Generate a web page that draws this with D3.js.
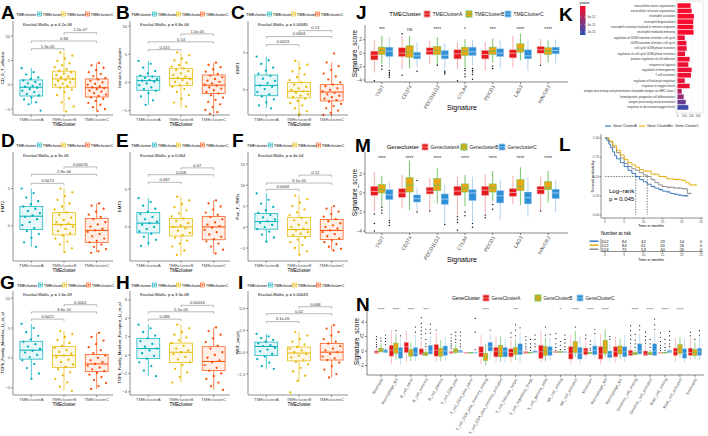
<!DOCTYPE html>
<html>
<head>
<meta charset="utf-8">
<title>Immune signatures by TME / gene cluster</title>
<script src="https://d3js.org/d3.v7.min.js"></script>
<style>
  body { margin: 0; background: #fff; }
  svg { display: block; font-family: "Liberation Sans", Arial, sans-serif; }
</style>
</head>
<body>
<svg id="fig" width="708" height="436"></svg>
<script>
// ---------- small TMEcluster panels (A-I) ----------
var tmeGroups = ["TMEclusterA", "TMEclusterB", "TMEclusterC"];
var tmeColors = ["#00AFBB", "#E7B800", "#FC4E07"];
var bracketPairs = [[0, 1], [0, 2], [1, 2]];

var smallLetters = ["A", "B", "C", "D", "E", "F", "G", "H", "I"];
var smallYLabels = ["CD_8_T_effector", "Immune_Checkpoint", "EMT1", "EMT2", "EMT3", "Pan_F_TBRs",
    "TGFb_Family_Member_Li_et_al", "TGFb_Family_Member_Receptor_Li_et_al", "WNT_target"];
var smallKW = ["4.2e-08", "6.8e-06", "0.00085", "3e-06", "0.064", "4e-04", "1.6e-09", "3.3e-08", "0.00043"];
var smallTicks = [[-5, 0, 5, 10], [-5, 0, 5, 10], [0, 5], [0, 5], [0, 5], [-5, 0, 5, 10, 15],
    [-5, 0, 5, 10], [-4, -2, 0, 2, 4, 6], [-2.5, 0, 2.5, 5]];
var smallDomains = [[-6.2, 13.1], [-5.8, 10.9], [-3.4, 9.3], [-4.7, 9.9], [-4.5, 9.9], [-8.1, 17.9],
    [-6.2, 11.2], [-4.35, 6.96], [-4.9, 7.0]];
// [label, height] for A-B, A-C, B-C
var smallBrackets = [
    [["1.3e-05", 7.4], ["0.84", 9.0], ["1.2e-07", 10.7]],
    [["0.015", 5.8], ["0.14", 7.2], ["1.5e-05", 8.6]],
    [["0.0053", 6.1], ["0.0003", 7.2], ["0.13", 8.0]],
    [["0.0072", 5.7], ["2.8e-06", 6.9], ["0.00076", 7.9]],
    [["0.087", 5.9], ["0.018", 6.9], ["0.47", 7.8]],
    [["0.0068", 9.0], ["9.1e-05", 10.5], ["0.12", 12.4]],
    [["0.0021", 6.5], ["3.6e-10", 7.7], ["0.0001", 8.9]],
    [["0.086", 3.9], ["5.5e-05", 4.7], ["0.00016", 5.4]],
    [["3.1e-05", 3.5], ["0.02", 4.4], ["0.068", 5.2]]
];
// [lower whisker, q1, median, q3, upper whisker]
var boxA = [[-4, -2.3, -0.5, 1.0, 3.5], [-5.5, -0.5, 1.2, 2.8, 6.8], [-5.3, -2.5, -0.6, 1.2, 4.5]];
var boxB = [[-4, -1.4, 0.3, 1.1, 3.8], [-4.5, -0.6, 0.7, 2.5, 5.3], [-5.6, -2, -0.5, 1.3, 3.5]];
var boxC = [[-2.5, -0.8, 0.6, 2.0, 4.5], [-3.5, -1.1, -0.2, 1.0, 3.9], [-3.4, -1.5, -0.3, 0.7, 3.7]];
var boxD = [[-2.8, -0.5, 1.3, 2.6, 5], [-3.5, -1.2, 0.2, 1.8, 5], [-3.5, -2.2, -0.6, 1.0, 3]];
var boxE = [[-2.5, -0.8, 0.5, 1.9, 3.8], [-3.8, -1.2, 0, 1.1, 4], [-3.5, -1.7, 0, 1.4, 3.5]];
var boxF = [[-3.5, -0.5, 1.3, 3.2, 8], [-6.5, -2.3, -0.6, 2.3, 7.5], [-5.5, -3, -0.8, 1.8, 5]];
var boxG = [[-3.5, -0.2, 1.3, 2.8, 5.7], [-5.5, -1.6, 0.4, 1.9, 4.5], [-5.2, -2.3, -1.0, 0.6, 4.2]];
var boxH = [[-2.3, -0.4, 0.7, 1.8, 3.3], [-3, -0.8, 0.3, 1.3, 3.3], [-3.8, -1.7, -0.7, 0.9, 3]];
var boxI = [[-1.9, -0.4, 0.65, 1.15, 2.1], [-3.3, -1, -0.1, 0.6, 2.3], [-2.9, -0.9, 0, 1.0, 3.1]];

var ptsA = [
    [3.4, 2.6, 2.1, 1.5, 1.2, 0.9, 0.6, 0.3, 0.1, -0.2, -0.4, -0.6, -0.9, -1.2, -1.5, -1.9, -2.2, -2.6, -3.0, -3.6, -4.0, -5.3],
    [6.6, 6.0, 5.4, 4.9, 4.4, 4.0, 3.6, 3.2, 2.9, 2.6, 2.3, 2.0, 1.7, 1.5, 1.2, 1.0, 0.8, 0.5, 0.2, 0, -0.3, -0.6, -1.0, -1.5, -2.1, -2.8, -3.6, -4.5, -5.5],
    [4.5, 4.0, 3.5, 3.0, 2.6, 2.2, 1.8, 1.4, 1.1, 0.8, 0.5, 0.2, 0, -0.3, -0.5, -0.7, -0.9, -1.2, -1.4, -1.7, -2.0, -2.3, -2.6, -2.9, -3.3, -3.7, -4.1, -4.6, -5.0, -5.4]
];
var ptsB = [
    [3.8, 3.3, 2.6, 2.0, 1.6, 1.2, 1.0, 0.8, 0.6, 0.4, 0.3, 0.1, -0.2, -0.5, -0.9, -1.2, -1.5, -1.9, -2.5, -3.2, -4.0],
    [5.3, 4.8, 4.2, 3.9, 3.5, 3.1, 2.8, 2.5, 2.2, 2.0, 1.6, 1.3, 1.0, 0.8, 0.6, 0.4, 0.1, -0.2, -0.5, -0.8, -1.2, -1.7, -2.3, -2.9, -3.6, -4.3],
    [3.5, 3.1, 2.7, 2.3, 1.9, 1.5, 1.2, 0.9, 0.6, 0.3, 0.1, -0.2, -0.4, -0.6, -0.9, -1.1, -1.4, -1.7, -2.0, -2.3, -2.7, -3.1, -3.5, -3.9, -4.4, -4.9, -5.3, -5.6]
];
var ptsC = [
    [4.5, 4.0, 3.5, 3.0, 2.6, 2.2, 1.9, 1.5, 1.2, 0.9, 0.6, 0.4, 0.1, -0.3, -0.6, -0.9, -1.3, -1.7, -2.1, -2.5],
    [3.9, 3.4, 2.9, 2.5, 2.1, 1.7, 1.3, 1.0, 0.7, 0.4, 0.2, 0, -0.2, -0.4, -0.6, -0.8, -1.0, -1.2, -1.5, -1.8, -2.1, -2.5, -2.9, -3.3],
    [4.9, 3.7, 3.2, 2.7, 2.2, 1.8, 1.4, 1.0, 0.7, 0.5, 0.2, 0, -0.2, -0.4, -0.6, -0.8, -1.0, -1.2, -1.4, -1.6, -1.9, -2.2, -2.5, -2.8, -3.1, -3.4]
];
var ptsD = [
    [5.0, 4.4, 3.8, 3.3, 2.9, 2.6, 2.3, 2.0, 1.7, 1.4, 1.2, 0.9, 0.5, 0.1, -0.3, -0.7, -1.1, -1.6, -2.2, -2.8],
    [5.0, 4.5, 4.0, 3.5, 3.0, 2.6, 2.2, 1.8, 1.5, 1.1, 0.8, 0.5, 0.3, 0.1, -0.1, -0.4, -0.7, -1.0, -1.3, -1.7, -2.1, -2.5, -3.0, -3.5],
    [3.0, 2.7, 2.3, 1.9, 1.5, 1.2, 0.9, 0.5, 0.2, -0.1, -0.4, -0.6, -0.8, -1.1, -1.4, -1.7, -2.0, -2.2, -2.5, -2.8, -3.1, -3.4, -3.6]
];
var ptsE = [
    [3.8, 3.3, 2.8, 2.4, 2.0, 1.7, 1.3, 1.0, 0.7, 0.5, 0.3, 0, -0.3, -0.6, -0.9, -1.3, -1.7, -2.1, -2.5],
    [4.0, 3.5, 3.0, 2.6, 2.2, 1.8, 1.4, 1.1, 0.8, 0.5, 0.2, 0, -0.2, -0.5, -0.8, -1.1, -1.4, -1.8, -2.2, -2.6, -3.1, -3.7],
    [3.5, 3.1, 2.7, 2.3, 1.9, 1.6, 1.3, 1.0, 0.6, 0.3, 0.1, -0.1, -0.4, -0.7, -1.0, -1.3, -1.6, -1.9, -2.2, -2.6, -3.0, -3.5]
];
var ptsF = [
    [8.0, 6.5, 5.6, 4.8, 4.0, 3.4, 2.9, 2.3, 1.8, 1.4, 1.0, 0.5, 0, -0.5, -1.1, -1.8, -2.5, -3.5],
    [7.5, 6.6, 5.8, 5.0, 4.2, 3.5, 2.8, 2.2, 1.6, 1.0, 0.5, 0, -0.4, -0.8, -1.2, -1.6, -2.0, -2.5, -3.0, -3.6, -4.3, -5.0, -5.8, -6.6],
    [5.0, 4.4, 3.7, 3.1, 2.5, 1.9, 1.4, 0.9, 0.4, 0, -0.4, -0.8, -1.2, -1.7, -2.2, -2.7, -3.1, -3.6, -4.1, -4.7, -5.2, -5.6]
];
var ptsG = [
    [5.7, 5.0, 4.3, 3.7, 3.1, 2.7, 2.3, 1.9, 1.5, 1.2, 0.9, 0.5, 0.1, -0.4, -1.0, -1.7, -2.6, -3.5],
    [4.5, 4.0, 3.5, 3.0, 2.5, 2.0, 1.7, 1.3, 1.0, 0.7, 0.4, 0.1, -0.3, -0.7, -1.1, -1.5, -1.9, -2.4, -2.9, -3.5, -4.1, -4.8, -5.5],
    [4.2, 3.5, 2.9, 2.3, 1.8, 1.3, 0.8, 0.4, 0, -0.4, -0.7, -1.0, -1.3, -1.6, -1.9, -2.2, -2.5, -2.8, -3.2, -3.7, -4.2, -4.7, -5.2]
];
var ptsH = [
    [3.3, 2.9, 2.5, 2.1, 1.8, 1.5, 1.2, 0.9, 0.7, 0.5, 0.2, -0.1, -0.4, -0.8, -1.2, -1.7, -2.3],
    [3.3, 2.9, 2.5, 2.2, 1.9, 1.6, 1.3, 1.0, 0.7, 0.5, 0.3, 0.1, -0.2, -0.5, -0.8, -1.1, -1.5, -1.9, -2.4, -3.0],
    [3.0, 2.6, 2.2, 1.8, 1.4, 1.0, 0.7, 0.3, 0, -0.3, -0.6, -0.8, -1.1, -1.4, -1.7, -2.0, -2.3, -2.6, -3.0, -3.4, -3.8]
];
var ptsI = [
    [2.1, 1.8, 1.6, 1.4, 1.2, 1.0, 0.8, 0.7, 0.5, 0.3, 0.1, -0.2, -0.5, -0.8, -1.2, -1.6, -1.9],
    [2.3, 1.9, 1.5, 1.2, 0.9, 0.6, 0.4, 0.2, 0, -0.2, -0.4, -0.6, -0.9, -1.1, -1.4, -1.8, -2.2, -2.7, -3.3, -4.6],
    [3.1, 2.7, 2.3, 1.9, 1.5, 1.2, 1.0, 0.7, 0.4, 0.2, 0, -0.2, -0.5, -0.7, -0.9, -1.2, -1.6, -2.0, -2.5, -2.9]
];
var smallBoxes = [boxA, boxB, boxC, boxD, boxE, boxF, boxG, boxH, boxI];
var smallPoints = [ptsA, ptsB, ptsC, ptsD, ptsE, ptsF, ptsG, ptsH, ptsI];

// ---------- J / M : checkpoint genes ----------
var sigGenes = ["TIGIT", "CD274", "PDCD1LG2", "CTLA4", "PDCD1", "LAG3", "HAVCR2"];
var jGroups = ["TMEClusterA", "TMEClusterB", "TMEClusterC"];
var jSignif = ["***", "ns", "****", "*", "***", "****", "****"];
var jBoxA = [[-2.9, -1.0, -0.3, 0.3, 1.9], [-2.4, -0.5, 0, 0.8, 2.5], [-1.6, -0.2, 0.3, 0.8, 1.9], [-2.4, -0.85, -0.1, 0.5, 1.6], [-2.6, -0.85, -0.2, 0.4, 1.7], [-2.1, -0.7, 0, 0.5, 2.6], [-1.6, 0, 0.5, 1.0, 2.1]];
var jBoxB = [[-1.6, -0.2, 0.4, 0.9, 2.6], [-2.3, -0.6, 0.2, 1.1, 2.6], [-1.9, -0.2, 0.4, 1.0, 2.4], [-2.1, -0.35, 0.3, 0.9, 2.1], [-1.4, -0.2, 0.3, 0.9, 2.2], [-1.1, 0.15, 0.6, 1.4, 2.9], [-1.4, -0.2, 0.3, 0.8, 1.9]];
var jBoxC = [[-2.1, -0.5, 0.3, 0.9, 2.4], [-2.1, -0.85, -0.4, 0.15, 1.6], [-2.4, -0.85, -0.3, 0.4, 1.5], [-1.9, -0.35, 0.2, 0.9, 1.9], [-2.3, -0.5, 0, 0.65, 2.0], [-2.6, -0.85, -0.4, 0.5, 1.9], [-1.5, -0.1, 0.4, 0.9, 2.0]];
var jOutA = [[-4.1], [-3.3, 2.9], [], [-4.1], [], [], [-1.8]];
var jOutB = [[-1.9, -2.4], [], [-1.8], [-2.3, -2.6, -3.1, -3.5], [-1.9, -2.3], [], []];
var jOutC = [[-2.6, -2.9, -3.1, -3.3, -3.6], [-2.7], [-2.7, -2.9, -3.1], [-2.3, -2.6, -2.8, -3.2, -3.9], [], [], []];

var mGroups = ["GeneclusterA", "GeneclusterB", "GeneclusterC"];
var mSignif = ["****", "****", "****", "****", "****", "****", "****"];
var mBoxA = [[-1.9, -0.25, 0.15, 0.7, 2.2], [-1.6, -0.45, 0, 0.45, 1.9], [-1.8, -0.1, 0.2, 0.6, 1.6], [-2.3, -0.25, 0.2, 0.7, 1.7], [-2.1, -0.25, 0.3, 0.7, 2.0], [-1.2, -0.35, 0.05, 0.45, 1.8], [-1.8, -0.1, 0.35, 0.7, 1.7]];
var mBoxB = [[-1.4, 0, 0.35, 0.9, 1.8], [-1.8, 0.1, 0.8, 1.6, 3.4], [-1.1, 0.25, 0.8, 1.5, 2.6], [-1.4, 0.1, 0.5, 0.95, 1.9], [-0.9, 0.1, 0.55, 0.95, 2.3], [-1.3, 0.25, 0.7, 1.4, 2.7], [-1.0, 0.35, 0.55, 1.2, 2.3]];
var mBoxC = [[-2.8, -0.7, -0.2, 0.35, 1.2], [-1.9, -0.95, -0.6, -0.2, 0.5], [-3.2, -1.2, -0.65, -0.1, 0.9], [-3.0, -0.8, 0, 0.35, 1.7], [-2.8, -1.05, -0.3, 0.25, 1.4], [-2.5, -1.15, -0.5, 0.1, 1.6], [-2.0, -0.6, 0, 0.4, 1.3]];
var mOutA = [[-2.2, -3.2, -4.0], [], [-1.9], [-2.5, -2.8, -3.1, -3.9], [-2.3, -2.6], [], [-1.9]];
var mOutB = [[-1.5, -1.8, -2.1], [], [], [-2.0, -2.4], [-1.2, -1.7], [], []];
var mOutC = [[-2.9, -3.1, -3.4], [1.3, -2.0], [-3.3], [-3.2, -3.6], [], [], []];

// ---------- N : immune cell infiltration ----------
var nCells = ["Neutrophil", "Macrophage_M2", "B_cell_naive", "B_cell_memory", "B_cell_plasma", "T_cell_CD8_plus",
    "T_cell_CD4_plus_naive", "T_cell_CD4_plus_memory_resting", "T_cell_CD4_plus_memory_activated",
    "T_cell_follicular_helper", "T_cell_regulatory_Tregs", "T_cell_gamma_delta", "NK_cell_resting",
    "NK_cell_activated", "Monocyte", "Macrophage_M0", "Macrophage_M1", "Dendritic_cell_resting",
    "Dendritic_cell_activated", "Mast_cell_resting", "Mast_cell_activated", "Eosinophil"];
var nGroups = ["GeneClusterA", "GeneClusterB", "GeneClusterC"];
var nSignif = ["****", "****", "****", "***", "", "", "", "****", "", "***", "", "", "*", "****", "****", "****", "", "****", "****", "****", "****", ""];
var nBoxA = [[-0.4, -0.3, -0.2, 0, 0.5], [-1.8, -0.7, 0.1, 0.8, 2.9], [-1.5, -0.2, 0.6, 1.2, 2.8], [-0.6, -0.5, -0.3, 0.3, 1.5], [-1.4, -0.7, 0.1, 0.9, 2.5], [-0.4, -0.3, -0.2, -0.1, 0.2], [-0.2, -0.2, -0.2, -0.2, -0.2], [-1.8, -0.8, -0.2, 0.6, 2.2], [-1.5, -0.8, 0, 0.5, 2], [-1.6, -0.8, -0.2, 0.3, 1.5], [-0.3, -0.3, -0.2, -0.1, 0.1], [-1.6, -1.0, -0.1, 0.8, 2.8], [-0.1, -0.1, -0.1, -0.1, -0.1], [-1.8, -1.1, -0.3, 0.6, 2.2], [-1.0, -0.5, 0, 0.4, 1.4], [-1.8, -1.1, -0.4, 0.6, 2.4], [-1.6, -0.8, -0.1, 0.6, 2.0], [-0.7, -0.6, -0.3, 0.1, 0.8], [-0.7, -0.6, -0.4, 0, 0.8], [-0.2, -0.2, -0.2, -0.2, -0.1], [-1.5, -0.6, -0.1, 0.4, 1.8], [-1.2, -0.6, -0.2, 0.4, 1.8]];
var nBoxB = [[-0.3, -0.1, 0.1, 0.4, 1.1], [-1.2, -0.3, 0.3, 1.1, 2.4], [-1.4, -0.7, -0.3, 0.2, 1.2], [-0.7, -0.6, -0.4, -0.2, 0.3], [-1.4, -0.7, -0.2, 0.4, 1.5], [-0.4, -0.2, 0, 0.3, 0.9], [-0.2, -0.2, -0.2, -0.2, -0.2], [-2.0, -1.3, -0.8, -0.3, 1.0], [-1.5, -0.8, -0.3, 0.8, 2.0], [-1.2, -0.5, 0, 0.5, 1.6], [-0.2, -0.2, -0.2, -0.2, -0.1], [-1.4, -0.6, 0, 0.6, 1.8], [-0.1, -0.1, -0.1, -0.1, -0.1], [-0.8, -0.2, 0.5, 1.3, 2.8], [-0.4, -0.3, -0.3, -0.2, -0.1], [-0.8, -0.3, 0.5, 1.5, 3.0], [-1.1, -0.4, 0.1, 0.7, 1.7], [-0.5, -0.5, -0.4, -0.2, 0.2], [-0.5, -0.5, -0.4, -0.2, 0.2], [-0.2, -0.2, -0.2, -0.2, -0.2], [-0.9, -0.3, 0.3, 0.9, 1.9], [-1.0, -0.6, -0.2, 0.2, 1.2]];
var nBoxC = [[-0.4, -0.2, 0, 0.2, 0.6], [-1.9, -1.0, 0, 0.5, 1.7], [-1.4, -0.7, -0.3, 0.5, 2.2], [-0.6, -0.4, 0, 0.8, 2.0], [-1.3, -0.6, 0, 0.7, 2.0], [-0.3, -0.2, -0.1, 0.1, 0.4], [-0.2, -0.2, -0.2, -0.2, -0.2], [-1.2, 0, 0.6, 1.2, 2.4], [-1.6, -0.8, 0, 0.5, 1.7], [-1.6, -0.5, 0, 1.0, 2.7], [-0.3, -0.2, -0.2, 0, 0.3], [-1.3, -0.6, 0, 0.6, 1.8], [-0.1, -0.1, -0.1, -0.1, -0.1], [-1.8, -1.1, -0.3, 0.5, 2.0], [-1.0, -0.5, 0.1, 0.7, 1.9], [-1.4, -0.9, -0.4, 0, 1.2], [-1.5, -0.8, -0.1, 0.6, 2.2], [-0.5, -0.4, 0, 1.0, 2.4], [-0.6, -0.6, 0, 1.0, 2.6], [-0.3, -0.2, -0.1, 0.1, 0.4], [-1.6, -1.0, -0.3, 0.3, 1.7], [-1.2, -0.6, -0.1, 0.4, 1.8]];
var nOutA = [[0.6, 0.9, 1.2, 1.6, 2.0], [], [], [1.8, 2.3, 2.8, 3.3, 3.8, 4.6], [2.9], [0.4, 0.7, 1.0, 1.4, 1.8, 2.3], [], [], [], [1.9, 2.5], [0.3, 0.6, 1.0, 1.5, 2.0], [], [0.1, 0.5, 1.0, 1.7, 2.4], [], [1.7, 2.2], [], [], [1.1, 1.6, 2.2, 2.8, 3.5], [1.1, 1.5, 2.0, 2.6], [0.1, 0.4, 0.8, 1.3, 1.9, 2.5], [], [2.1, 2.6]];
var nOutB = [[1.4, 1.8], [2.8], [], [0.6, 1.0, 1.6, 2.4, 3.0], [], [1.2, 1.6, 2.1, 2.6], [], [], [], [2.1, 2.9, 3.6], [0.1, 0.5, 1.0, 1.6], [2.2, 3.3], [0.2, 0.8, 1.3], [3.3], [0.1, 0.4, 0.9, 1.4], [], [], [0.5, 1.0, 1.5, 2.3], [0.5, 1.0, 1.6], [0.1, 0.5, 1.0, 1.6], [], [1.6]];
var nOutC = [[0.9, 1.3, 1.7, 2.2], [2.1], [2.6, 3.3], [2.5, 3.0, 3.7], [], [0.6, 1.0, 1.5, 2.1, 2.6], [0.2, 2.6, 4.5], [2.9], [], [3.2], [0.6, 1.0, 1.6, 2.2], [2.3], [0.2, 0.6, 1.1, 1.6, 2.2], [], [2.4, 3.0], [1.6, 2.0], [], [2.9, 3.5], [3.0, 3.6, 4.4], [0.6, 1.0, 1.5, 2.1, 2.7], [], [2.2, 2.8]];

// ---------- K : GO enrichment ----------
var kTerms = ["extracellular matrix organization", "extracellular structure organization", "neutrophil activation",
    "neutrophil degranulation", "neutrophil activation involved in immune response", "neutrophil mediated immunity",
    "regulation of G2/M transition of mitotic cell cycle", "G2/M transition of mitotic cell cycle",
    "cell cycle G2/M phase transition", "regulation of cell cycle G2/M phase transition",
    "positive regulation of cell adhesion", "response to hypoxia", "regulation of hemopoiesis", "T cell activation",
    "regulation of leukocyte migration", "response to oxygen levels",
    "antigen processing and presentation of peptide antigen via MHC class I",
    "hematopoietic progenitor cell differentiation", "antigen processing and presentation",
    "response to decreased oxygen levels"];
var kCounts = [190, 205, 238, 229, 229, 233, 105, 129, 133, 110, 176, 157, 205, 195, 105, 176, 62, 90, 119, 157];
var kPvals = [8.6e-11, 8.6e-11, 8.7e-11, 8.7e-11, 8.7e-11, 8.7e-11, 8.2e-11, 8.2e-11, 8.2e-11, 8.2e-11,
    8.3e-11, 8.2e-11, 8.3e-11, 8.3e-11, 8.1e-11, 8.2e-11, 6.2e-11, 5.0e-11, 3.4e-11, 2.0e-11];
var kLegendTicks = [6e-11, 4e-11, 2e-11];

// ---------- L : survival ----------
var survNames = ["Gene ClusterA", "Gene ClusterB", "Gene ClusterC"];
var survTimesA = [0, 0.5, 1, 1.5, 2, 2.5, 3, 4, 5, 6, 7, 8, 9, 10, 11, 12, 13, 14, 15, 16, 17, 18, 19, 20, 21.7];
var survA = [1, 0.97, 0.92, 0.87, 0.82, 0.77, 0.73, 0.68, 0.63, 0.58, 0.54, 0.5, 0.46, 0.43, 0.4, 0.37, 0.35, 0.33, 0.31, 0.3, 0.28, 0.27, 0.26, 0.25, 0.25];
var survTimesB = [0, 1, 2, 3, 4, 5, 6, 7, 8, 9, 10, 12, 14, 16, 18, 20, 21, 22, 24];
var survB = [1, 0.96, 0.9, 0.84, 0.78, 0.72, 0.68, 0.65, 0.62, 0.59, 0.57, 0.53, 0.5, 0.47, 0.46, 0.45, 0.42, 0.39, 0.39];
var survTimesC = [0, 1, 2, 3, 4, 5, 6, 7, 8, 9, 10, 11, 12, 13, 14, 15, 16, 18, 20, 21.5, 22.5];
var survC = [1, 0.95, 0.88, 0.81, 0.74, 0.67, 0.63, 0.6, 0.58, 0.55, 0.52, 0.5, 0.46, 0.42, 0.39, 0.37, 0.36, 0.35, 0.34, 0.28, 0.28];
var censorA = [12.5, 14.5, 16.5, 18.5, 19.5, 20.5, 21, 21.4];
var censorB = [11, 13, 14.5, 15.5, 16.5, 17.5, 18.5, 19, 20.5, 22.5, 23.5];
var censorC = [12.5, 15, 16.5, 17, 18, 19, 19.5, 20.5, 21, 22];
var survMedians = [8, 11];
var riskTimes = [0, 5, 10, 15, 20, 25];
var riskA = [102, 84, 42, 29, 14, 0];
var riskB = [122, 84, 61, 50, 26, 0];
var riskC = [124, 75, 53, 40, 26, 0];

// ================= drawing =================
var svg = d3.select("#fig");
svg.append("rect").attr("width", 708).attr("height", 436).attr("fill", "#fff");

function text(g, x, y, s, size, anchor, color) {
    return g.append("text").attr("x", x).attr("y", y).text(s)
        .attr("font-size", size).attr("text-anchor", anchor || "start").attr("fill", color || "#000");
}
function hline(g, x1, x2, y, col, w) {
    return g.append("line").attr("x1", x1).attr("x2", x2).attr("y1", y).attr("y2", y)
        .attr("stroke", col).attr("stroke-width", w);
}
function vline(g, x, y1, y2, col, w) {
    return g.append("line").attr("x1", x).attr("x2", x).attr("y1", y1).attr("y2", y2)
        .attr("stroke", col).attr("stroke-width", w);
}

// panel letters
[["A", 1, 19], ["B", 116, 19], ["C", 231, 19], ["D", 1, 147], ["E", 116, 147], ["F", 232, 147],
 ["G", 0, 289], ["H", 116, 289], ["I", 238, 289], ["J", 356, 19], ["K", 559, 21], ["M", 355, 152],
 ["L", 559, 151], ["N", 356, 311]].forEach(function (d) {
    text(svg, d[1], d[2], d[0], 19, "start").attr("font-weight", "bold");
});

// ---- A-I ----
var colX = [13, 130, 248];
var rowTop = [21, 152, 291], rowBot = [115, 261, 395], rowLeg = [14, 145, 285];
var legStart = [[16, 131, 246], [16, 131, 247], [17, 131, 247]];

function drawSmall(k) {
    var r = Math.floor(k / 3), c = k % 3;
    var ax = colX[c], top = rowTop[r], bot = rowBot[r];
    var g = svg.append("g");
    var x = d3.scaleBand().domain(tmeGroups).range([ax + 2, ax + 100]).paddingInner(0.3).paddingOuter(0.15);
    var y = d3.scaleLinear().domain(smallDomains[k]).range([bot, top]);
    var bw = x.bandwidth();

    smallBoxes[k].forEach(function (b, j) {
        var x0 = x(tmeGroups[j]), cx = x0 + bw / 2, col = tmeColors[j];
        vline(g, cx, y(b[4]), y(b[3]), col, 0.7);
        vline(g, cx, y(b[1]), y(b[0]), col, 0.7);
        g.append("rect").attr("x", x0).attr("y", y(b[3])).attr("width", bw).attr("height", y(b[1]) - y(b[3]))
            .attr("fill", col).attr("fill-opacity", 0.1).attr("stroke", col).attr("stroke-width", 0.7);
        hline(g, x0, x0 + bw, y(b[2]), col, 1);
        g.selectAll(null).data(smallPoints[k][j]).join("circle")
            .attr("cx", function (v, i) { return cx + (((i * 0.618034 + j * 0.31) % 1) - 0.5) * bw * 0.85; })
            .attr("cy", function (v) { return y(v); })
            .attr("r", 1.15).attr("fill", col);
    });

    // axes
    vline(g, ax, top, bot, "#222", 0.5);
    hline(g, ax, ax + 100, bot, "#222", 0.5);
    var fmt = smallTicks[k].some(function (t) { return t % 1 !== 0; }) ? d3.format(".1f") : d3.format("d");
    smallTicks[k].forEach(function (t) {
        hline(g, ax - 1.8, ax, y(t), "#222", 0.5);
        text(g, ax - 2.8, y(t) + 1.5, fmt(t).replace("-", "\u2212"), 4.3, "end", "#4d4d4d");
    });
    tmeGroups.forEach(function (name) {
        var cx = x(name) + bw / 2;
        vline(g, cx, bot, bot + 1.8, "#222", 0.5);
        text(g, cx, bot + 5.6, name, 4.3, "middle", "#4d4d4d");
    });
    text(g, ax + 51, bot + 10.5, "TMEcluster", 4.6, "middle");
    text(g, 0, 0, smallYLabels[k], 4.3, "middle")
        .attr("transform", "translate(" + (ax - 9.5) + "," + ((top + bot) / 2) + ") rotate(-90)");

    // Kruskal-Wallis
    text(g, ax + 10, top + 5, "Kruskal-Wallis, p = " + smallKW[k], 4.1, "start");

    // pairwise brackets
    smallBrackets[k].forEach(function (br, bi) {
        var p = bracketPairs[bi];
        var x1 = x(tmeGroups[p[0]]) + bw / 2, x2 = x(tmeGroups[p[1]]) + bw / 2, yy = y(br[1]);
        g.append("path").attr("d", "M" + x1 + "," + (yy + 2) + "V" + yy + "H" + x2 + "V" + (yy + 2))
            .attr("fill", "none").attr("stroke", "#8a8a8a").attr("stroke-width", 0.6);
        text(g, (x1 + x2) / 2, yy - 1.2, br[0], 4.1, "middle", "#333");
    });

    // legend
    var lx = legStart[r][c], ly = rowLeg[r];
    text(g, lx, ly + 1.5, "TMEcluster", 4, "start");
    tmeGroups.forEach(function (name, j) {
        var ix = lx + 21.5 + j * 24;
        g.append("rect").attr("x", ix).attr("y", ly - 2).attr("width", 4).attr("height", 4)
            .attr("fill", "#fff").attr("stroke", tmeColors[j]).attr("stroke-width", 0.6);
        hline(g, ix, ix + 4, ly, tmeColors[j], 0.6);
        g.append("circle").attr("cx", ix + 2).attr("cy", ly).attr("r", 0.8).attr("fill", tmeColors[j]);
        text(g, ix + 5.3, ly + 1.5, name, 3.9, "start");
    });
}
for (var k = 0; k < 9; k++) drawSmall(k);

// ---- grouped boxplots (J, M, N) ----
var boxFill = ["#E41A1C", "#E6A817", "#2D8FD5"];
var boxLine = ["#F5A3A3", "#66C05A", "#A8CEEE"];

function drawGrouped(o) {
    var g = svg.append("g");
    var x = d3.scaleBand().domain(o.cats).range(o.xr).paddingInner(o.pin).paddingOuter(o.pout);
    var y = d3.scaleLinear().domain(o.domain).range([o.bot, o.top]);
    var sub = d3.scaleBand().domain([0, 1, 2]).range([0, x.bandwidth()]).paddingInner(0.04);
    var sw = sub.bandwidth();

    o.cats.forEach(function (cat, ci) {
        [0, 1, 2].forEach(function (j) {
            var b = o.boxes[j][ci];
            var x0 = x(cat) + sub(j), cx = x0 + sw / 2;
            vline(g, cx, y(b[4]), y(b[0]), boxLine[j], o.lw);
            g.append("rect").attr("x", x0).attr("y", y(b[3])).attr("width", sw)
                .attr("height", Math.max(0.6, y(b[1]) - y(b[3])))
                .attr("fill", boxFill[j]).attr("stroke", boxLine[j]).attr("stroke-width", 0.5);
            hline(g, x0, x0 + sw, y(b[2]), boxLine[j], o.lw);
            g.selectAll(null).data(o.outs[j][ci]).join("circle")
                .attr("cx", cx).attr("cy", function (v) { return y(v); })
                .attr("r", o.dot).attr("fill", "#111");
        });
        if (o.signif[ci]) text(g, x(cat) + x.bandwidth() / 2, o.sigY, o.signif[ci], o.sigSize, "middle", "#333");
    });

    vline(g, o.ax, o.top, o.bot, "#333", 0.6);
    hline(g, o.ax, o.xEnd, o.bot, "#333", 0.6);
    o.ticks.forEach(function (t) {
        hline(g, o.ax - 2, o.ax, y(t), "#333", 0.6);
        text(g, o.ax - 3, y(t) + 1.7, d3.format("d")(t).replace("-", "\u2212"), 4.8, "end", "#4d4d4d");
    });
    o.cats.forEach(function (cat) {
        var cx = x(cat) + x.bandwidth() / 2;
        vline(g, cx, o.bot, o.bot + 2, "#333", 0.6);
        text(g, 0, 0, cat, o.labSize, "end", "#4d4d4d").attr("dy", "0.35em")
            .attr("transform", "translate(" + (cx + 1) + "," + (o.bot + 3.5) + ") rotate(-60)");
    });
    text(g, 0, 0, "Signature_score", 6.5, "middle")
        .attr("transform", "translate(" + (o.ax - 8.5) + "," + ((o.top + o.bot) / 2) + ") rotate(-90)");
    if (o.xTitleY) text(g, o.xTitleX, o.xTitleY, "Signature", 7, "middle");

    // legend
    text(g, o.legTitleEnd, o.legY + 2, o.legTitle, o.legTitleSize, "end");
    o.groups.forEach(function (name, j) {
        var ix = o.legItems[j];
        g.append("rect").attr("x", ix).attr("y", o.legY - 3).attr("width", 6).attr("height", 6)
            .attr("fill", boxFill[j]).attr("stroke", boxLine[j]).attr("stroke-width", 0.8);
        hline(g, ix, ix + 6, o.legY, boxLine[j], 0.8);
        vline(g, ix + 3, o.legY - 4, o.legY - 3, boxLine[j], 0.8);
        vline(g, ix + 3, o.legY + 3, o.legY + 4, boxLine[j], 0.8);
        text(g, ix + 8.5, o.legY + 1.8, name, o.legSize, "start", "#222");
    });
}

drawGrouped({
    cats: sigGenes, groups: jGroups, boxes: [jBoxA, jBoxB, jBoxC], outs: [jOutA, jOutB, jOutC], signif: jSignif,
    xr: [368, 562], pin: 0.2, pout: 0.1, domain: [-4.3, 4.2], top: 25, bot: 82, ax: 365, xEnd: 568,
    ticks: [-4, -2, 0, 2], sigY: 31, sigSize: 5, lw: 0.9, dot: 0.75, labSize: 5,
    xTitleX: 462, xTitleY: 110, legTitleEnd: 421, legY: 14, legTitle: "TMECluster", legTitleSize: 6,
    legItems: [424, 466, 505], legSize: 5
});
drawGrouped({
    cats: sigGenes, groups: mGroups, boxes: [mBoxA, mBoxB, mBoxC], outs: [mOutA, mOutB, mOutC], signif: mSignif,
    xr: [368, 562], pin: 0.2, pout: 0.1, domain: [-4.2, 4.3], top: 152, bot: 233, ax: 365, xEnd: 568,
    ticks: [-4, -2, 0, 2], sigY: 160, sigSize: 5, lw: 0.9, dot: 0.75, labSize: 5,
    xTitleX: 462, xTitleY: 262, legTitleEnd: 419, legY: 147, legTitle: "Genecluster", legTitleSize: 6,
    legItems: [422, 461, 499], legSize: 4.8
});
drawGrouped({
    cats: nCells, groups: nGroups, boxes: [nBoxA, nBoxB, nBoxC], outs: [nOutA, nOutB, nOutC], signif: nSignif,
    xr: [373.5, 702.4], pin: 0.1, pout: 0.05, domain: [-3.3, 5.93], top: 308, bot: 375, ax: 367, xEnd: 704,
    ticks: [-2, 0, 2, 4], sigY: 311, sigSize: 4.3, lw: 0.7, dot: 0.6, labSize: 3.9,
    xTitleY: null, legTitleEnd: 480, legY: 298, legTitle: "GeneCluster", legTitleSize: 5,
    legItems: [483, 535, 577], legSize: 4.6
});

// ---- K : GO bar chart ----
(function () {
    var g = svg.append("g");
    var x = d3.scaleLinear().domain([0, 355]).range([677.5, 702]);
    var y = d3.scaleBand().domain(kTerms).range([3, 110]).paddingInner(0.14).paddingOuter(0.05);
    var pcol = d3.scaleLinear().domain([1.2e-11, 8.9e-11]).range(["#2A50B8", "#FF0A28"]).interpolate(d3.interpolateRgb);
    g.append("rect").attr("x", 676).attr("y", 1).attr("width", 27).attr("height", 112)
        .attr("fill", "none").attr("stroke", "#c8c8c8").attr("stroke-width", 0.5);
    [0, 100, 200, 300].forEach(function (t) {
        vline(g, x(t), 1, 113, "#ececec", 0.4);
        text(g, x(t), 116.5, String(t), 2.8, "middle", "#4d4d4d");
    });
    g.selectAll(null).data(kTerms).join("rect")
        .attr("x", x(0)).attr("y", function (d) { return y(d); })
        .attr("width", function (d, i) { return x(kCounts[i]) - x(0); })
        .attr("height", y.bandwidth())
        .attr("fill", function (d, i) { return pcol(kPvals[i]); });
    kTerms.forEach(function (t) {
        text(g, 675, y(t) + y.bandwidth() / 2 + 1, t, 2.9, "end", "#333");
    });
    // colour legend
    var grad = svg.append("defs").append("linearGradient").attr("id", "pgrad")
        .attr("x1", 0).attr("x2", 0).attr("y1", 0).attr("y2", 1);
    grad.append("stop").attr("offset", "0%").attr("stop-color", "#FF0A28");
    grad.append("stop").attr("offset", "100%").attr("stop-color", "#2A50B8");
    var ly = d3.scaleLinear().domain([1.2e-11, 8.9e-11]).range([35, 6]);
    text(g, 579.5, 4.2, "pvalue", 3.4, "start");
    g.append("rect").attr("x", 580).attr("y", 6).attr("width", 5.5).attr("height", 29).attr("fill", "url(#pgrad)");
    kLegendTicks.forEach(function (t) {
        hline(g, 580, 581.2, ly(t), "#fff", 0.4);
        hline(g, 584.3, 585.5, ly(t), "#fff", 0.4);
        text(g, 587.5, ly(t) + 1.1, d3.format(".0e")(t), 3.2, "start", "#333");
    });
})();

// ---- L : survival ----
(function () {
    var g = svg.append("g");
    var cols = ["#2D6DB5", "#E8AA00", "#858585"];
    var x = d3.scaleLinear().domain([0, 25]).range([605, 701]);
    var y = d3.scaleLinear().domain([0, 1]).range([215, 138]);
    var times = [survTimesA, survTimesB, survTimesC], surv = [survA, survB, survC];
    var cens = [censorA, censorB, censorC];
    var line = d3.line().x(function (d) { return x(d[0]); }).y(function (d) { return y(d[1]); }).curve(d3.curveStepAfter);

    // legend above
    var legX = [605, 639, 667];
    survNames.forEach(function (n, j) {
        hline(g, legX[j], legX[j] + 6, 126, cols[j], 1.1);
        text(g, legX[j] + 8, 127.3, n, 3.6, "start", "#222");
    });

    // dashed median lines
    var mMax = d3.max(survMedians);
    g.append("path").attr("d", "M" + x(0) + "," + y(0.5) + "H" + x(mMax))
        .attr("stroke", "#000").attr("stroke-width", 0.5).attr("stroke-dasharray", "1.5,1.2").attr("fill", "none");
    survMedians.forEach(function (m) {
        g.append("path").attr("d", "M" + x(m) + "," + y(0.5) + "V" + y(0))
            .attr("stroke", "#000").attr("stroke-width", 0.5).attr("stroke-dasharray", "1.5,1.2").attr("fill", "none");
    });

    [2, 1, 0].forEach(function (j) {
        var pts = times[j].map(function (t, i) { return [t, surv[j][i]]; });
        g.append("path").attr("d", line(pts)).attr("fill", "none").attr("stroke", cols[j]).attr("stroke-width", 0.9);
        cens[j].forEach(function (t) {
            var v = surv[j][0];
            times[j].forEach(function (tt, i) { if (tt <= t) v = surv[j][i]; });
            vline(g, x(t), y(v) - 1.1, y(v) + 1.1, cols[j], 0.45);
        });
    });

    // axes
    vline(g, 601, 134, 218, "#222", 0.5);
    hline(g, 601, 703, 218, "#222", 0.5);
    [0, 0.25, 0.5, 0.75, 1].forEach(function (t) {
        hline(g, 599.5, 601, y(t), "#222", 0.5);
        text(g, 599, y(t) + 1.1, d3.format(".2f")(t), 3.2, "end", "#4d4d4d");
    });
    [0, 5, 10, 15, 20, 25].forEach(function (t) {
        vline(g, x(t), 218, 219.5, "#222", 0.5);
        text(g, x(t), 222.5, String(t), 3.2, "middle", "#4d4d4d");
    });
    text(g, 651, 227, "Time in months", 3.8, "middle");
    text(g, 0, 0, "Survival probability", 3.8, "middle")
        .attr("transform", "translate(594," + y(0.5) + ") rotate(-90)");
    text(g, 609, 193, "Log\u2212rank", 6, "start");
    text(g, 609, 200.5, "p = 0.045", 6, "start");

    // number at risk
    text(g, 601, 234.5, "Number at risk", 4.6, "start");
    var rows = [riskA, riskB, riskC], rowY = [241.2, 245.2, 249.2];
    vline(g, 601, 238.5, 251.5, "#222", 0.5);
    hline(g, 601, 703, 251.5, "#222", 0.5);
    rows.forEach(function (row, j) {
        hline(g, 589.5, 598.5, rowY[j], cols[j], 1.4);
        row.forEach(function (n, i) {
            text(g, x(riskTimes[i]), rowY[j] + 1.5, String(n), 4.3, "middle", "#222");
        });
    });
    riskTimes.forEach(function (t) {
        vline(g, x(t), 251.5, 253, "#222", 0.5);
        text(g, x(t), 256, String(t), 3.2, "middle", "#4d4d4d");
    });
    text(g, 651, 261, "Time in months", 3.8, "middle");
})();
</script>
</body>
</html>
